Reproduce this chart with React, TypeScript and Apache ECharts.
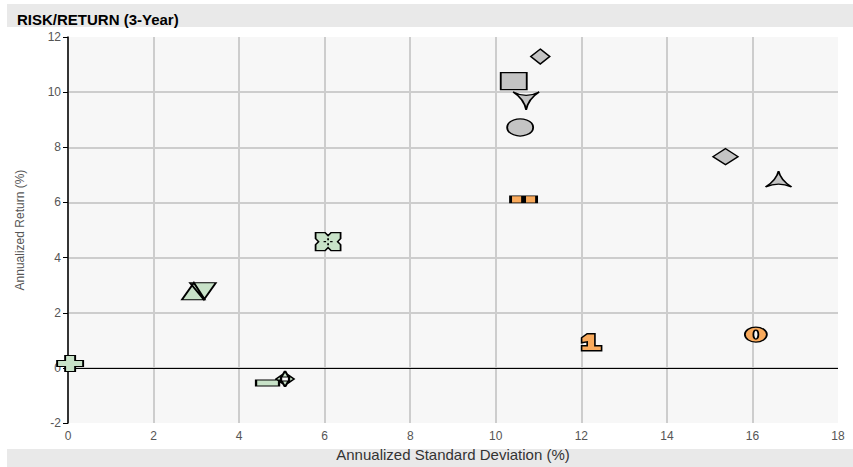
import React, { useEffect, useRef } from "react";
import * as echarts from "echarts";

// Data (annualized std dev %, annualized return %)
const markerNames = [
  "Fund A", "Fund B", "Fund C", "Fund D", "Fund E", "Fund F", "Fund G",
  "Fund H", "Fund I", "Fund J", "Fund K", "Fund L", "Fund M",
];
const riskValues = [11.04, 10.42, 10.71, 10.57, 10.65, 15.37, 16.61, 6.08, 3.06, 0.05, 4.84, 12.24, 16.08];
const returnValues = [11.29, 10.4, 9.68, 8.72, 6.11, 7.66, 6.85, 4.58, 2.78, 0.16, -0.4, 0.93, 1.21];

const xTicks = { min: 0, max: 18, interval: 2 };
const yTicks = { min: -2, max: 12, interval: 2 };

const GRAY = "#c4c4c4";
const GREEN = "#c8e2c8";
const ORANGE = "#f9aa5c";

const downStar = "path://M0 0 Q13 7 26 0 Q15 7 13 18 Q11 7 0 0 Z";
const upStar = "path://M13 0 Q15 9 26 16 Q13 10 0 16 Q11 9 13 0 Z";
const doubleRect = "path://M0 0 H12 V7 H0 Z M14 0 H26 V7 H14 Z";
const ironCross =
  "path://M0 0 H9.5 L12.5 3 L15.5 0 H25 V6 L22 9 L25 12 V18 H15.5 L12.5 15 L9.5 18 H0 V12 L3 9 L0 6 Z M12.5 5.5 V7.5 M12.5 10.5 V12.5 M8 9 H10.5 M14.5 9 H17";
const triangles = "path://M0 17 L12 0 L23 17 Z M8 0 L34 0 L22 17 Z";
const plus = "path://M8 0 H18 V5 H26 V11 H18 V16 H8 V11 H0 V5 H8 Z";
const arrows =
  "path://M0 9 H23 V15 H0 Z M29 0 L32.5 6 L25.5 6 Z M29 16 L32.5 10 L25.5 10 Z M38 8 L33 4.5 L33 11.5 Z M20 8 L25 4.5 L25 11.5 Z";
const digitOne = "path://M6 0 H13 V12 H19 V17 H1 V12 H6 V8 L1 9 V4 Z";
const digitZero =
  "path://M0 7.5 A11 7.5 0 1 1 22 7.5 A11 7.5 0 1 1 0 7.5 Z M8.5 7.5 A2.5 4.5 0 1 0 13.5 7.5 A2.5 4.5 0 1 0 8.5 7.5 Z";

const markerStyles = [
  { symbol: "diamond", size: [19, 15], color: GRAY },
  { symbol: "rect", size: [26, 17], color: GRAY },
  { symbol: downStar, size: [26, 18], color: GRAY },
  { symbol: "circle", size: [26, 17], color: GRAY },
  { symbol: doubleRect, size: [26, 7], color: ORANGE },
  { symbol: "diamond", size: [25, 16], color: GRAY },
  { symbol: upStar, size: [26, 16], color: GRAY },
  { symbol: ironCross, size: [25, 18], color: GREEN },
  { symbol: triangles, size: [34, 17], color: GREEN },
  { symbol: plus, size: [26, 16], color: GREEN },
  { symbol: arrows, size: [38, 16], color: GREEN },
  { symbol: digitOne, size: [20, 17], color: ORANGE },
  { symbol: digitZero, size: [22, 15], color: ORANGE },
];

const FONT = "Arial, 'Liberation Sans', sans-serif";

export default function App() {
  const ref = useRef<HTMLDivElement>(null);
  useEffect(() => {
    if (!ref.current) return;
    const chart = echarts.init(ref.current, undefined, { renderer: "svg" });
    const series: any[] = markerNames.map((name, i) => ({
      name,
      type: "scatter",
      data: [[riskValues[i], returnValues[i]]],
      symbol: markerStyles[i].symbol,
      symbolSize: markerStyles[i].size,
      itemStyle: {
        color: markerStyles[i].color,
        borderColor: "#000",
        borderWidth: 1.5,
        opacity: 1,
      },
      z: 5,
      ...(i === 0
        ? {
            markLine: {
              silent: true,
              symbol: ["none", "none"],
              label: { show: false },
              lineStyle: { color: "#000", width: 1, type: "solid" },
              data: [{ yAxis: 0 }],
              z: 3,
            },
          }
        : {}),
    }));

    chart.setOption({
      animation: false,
      backgroundColor: "#fff",
      title: {
        text: "RISK/RETURN (3-Year)",
        left: 12,
        top: 7,
        textStyle: { fontFamily: FONT, fontSize: 15, fontWeight: "bold", color: "#000" },
      },
      graphic: [
        {
          type: "rect",
          z: -10,
          shape: { x: 7, y: 4, width: 846, height: 23 },
          style: { fill: "#e9e9e9" },
        },
        {
          type: "rect",
          z: -10,
          shape: { x: 7, y: 449, width: 846, height: 18 },
          style: { fill: "#e9e9e9" },
        },
      ],
      grid: {
        left: 68,
        right: 15,
        top: 37,
        bottom: 43,
        show: true,
        backgroundColor: "#f7f7f7",
        borderWidth: 0,
      },
      xAxis: {
        type: "value",
        min: xTicks.min,
        max: xTicks.max,
        interval: xTicks.interval,
        name: "Annualized Standard Deviation (%)",
        nameLocation: "middle",
        nameGap: 21,
        nameTextStyle: { fontFamily: FONT, fontSize: 15, color: "#333" },
        axisLine: { show: false, onZero: false },
        axisTick: { show: false },
        axisLabel: { fontFamily: FONT, fontSize: 12, color: "#555", margin: 7 },
        splitLine: { show: true, showMaxLine: false, lineStyle: { color: "#cdcdcd", width: 2 } },
      },
      yAxis: {
        type: "value",
        min: yTicks.min,
        max: yTicks.max,
        interval: yTicks.interval,
        name: "Annualized Return (%)",
        nameLocation: "middle",
        nameGap: 42,
        nameTextStyle: { fontFamily: FONT, fontSize: 12, color: "#555" },
        axisLine: { show: true, onZero: false, lineStyle: { color: "#000", width: 1.5 } },
        axisTick: { show: true, length: 5, lineStyle: { color: "#000" } },
        axisLabel: { fontFamily: FONT, fontSize: 12, color: "#555", margin: 7 },
        splitLine: {
          show: true,
          showMaxLine: false,
          showMinLine: false,
          lineStyle: { color: "#cdcdcd", width: 2 },
        },
      },
      series,
    });
    return () => chart.dispose();
  }, []);
  return (
    <div
      ref={ref}
      style={{ position: "fixed", left: 0, top: 0, width: 853, height: 467 }}
    />
  );
}
